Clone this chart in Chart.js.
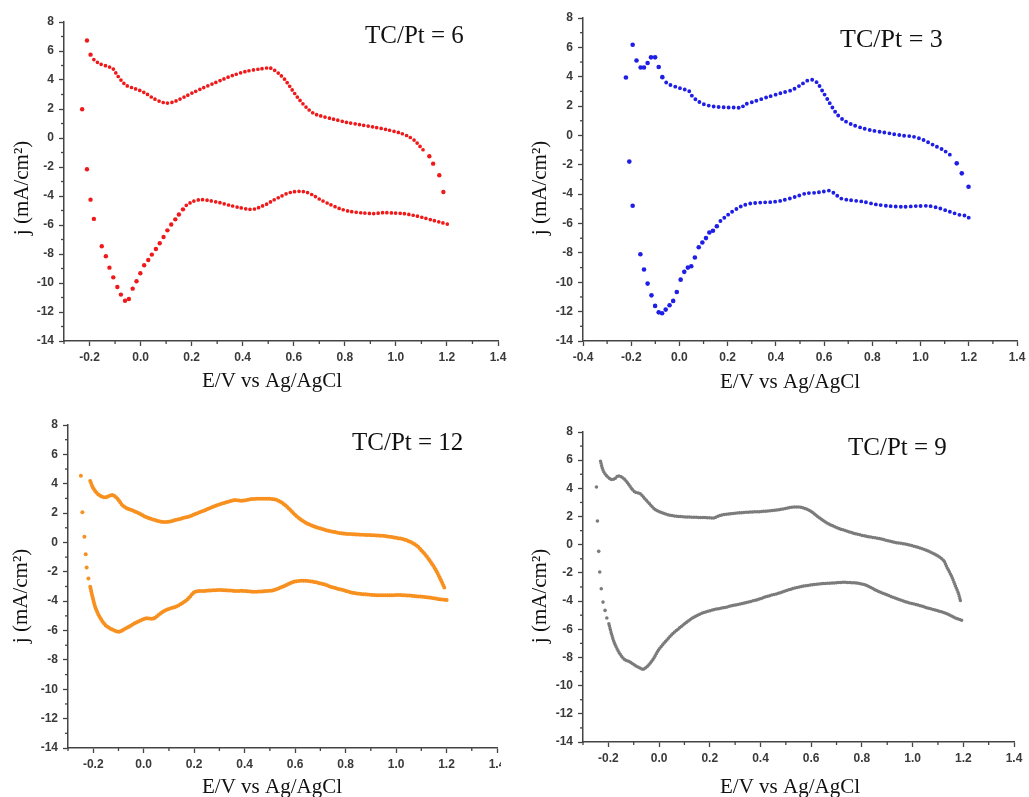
<!DOCTYPE html>
<html>
<head>
<meta charset="utf-8">
<script src="https://cdn.jsdelivr.net/npm/chart.js@4.4.1/dist/chart.umd.min.js"></script>
<style>
  body { margin: 0; background: #fff; width: 1029px; height: 797px; position: relative; overflow: hidden; }
  canvas { position: absolute; }
</style>
</head>
<body>
<canvas id="c1" width="515" height="400" style="left:0;top:0"></canvas>
<canvas id="c2" width="514" height="400" style="left:515px;top:0"></canvas>
<canvas id="c3" width="501" height="397" style="left:0;top:400px"></canvas>
<canvas id="c4" width="514" height="397" style="left:515px;top:400px"></canvas>
<script>
// Shared labels
const xTitle = 'E/V vs Ag/AgCl';
const yTitle = 'j (mA/cm\u00B2)';
const tags = ['TC/Pt = 6', 'TC/Pt = 3', 'TC/Pt = 12', 'TC/Pt = 9'];

// TC/Pt = 6 (red)
const p1UpX = [-0.183, -0.161, -0.135, -0.109, -0.093, -0.076, -0.056, -0.03, -0.004, 0.022, 0.048, 0.075, 0.1, 0.127, 0.153, 0.179, 0.205, 0.244, 0.284, 0.323, 0.362, 0.414, 0.467, 0.506, 0.525, 0.545, 0.565, 0.584, 0.604, 0.624, 0.65, 0.676, 0.702, 0.754, 0.807, 0.859, 0.911, 0.964, 1.016, 1.048, 1.075, 1.094, 1.114];
const p1UpY = [5.41, 5.13, 4.97, 4.79, 4.37, 3.98, 3.63, 3.45, 3.29, 3.06, 2.76, 2.53, 2.41, 2.48, 2.67, 2.9, 3.13, 3.45, 3.75, 4.05, 4.32, 4.6, 4.76, 4.83, 4.67, 4.39, 4.03, 3.57, 3.06, 2.6, 2.1, 1.72, 1.54, 1.31, 1.08, 0.92, 0.76, 0.58, 0.35, 0.12, -0.2, -0.57, -0.96];
const p1LoX = [0.179, 0.205, 0.238, 0.271, 0.31, 0.349, 0.388, 0.427, 0.454, 0.467, 0.493, 0.519, 0.545, 0.571, 0.597, 0.624, 0.65, 0.676, 0.702, 0.741, 0.78, 0.82, 0.872, 0.911, 0.95, 0.99, 1.029, 1.068, 1.107, 1.146, 1.179, 1.205];
const p1LoY = [-4.64, -4.37, -4.25, -4.32, -4.46, -4.64, -4.8, -4.92, -4.87, -4.76, -4.57, -4.3, -4.07, -3.84, -3.72, -3.68, -3.74, -3.95, -4.23, -4.57, -4.87, -5.06, -5.17, -5.21, -5.15, -5.17, -5.21, -5.33, -5.49, -5.68, -5.83, -5.95];
const p1DotX = [-0.229, -0.21, -0.196, 1.131, 1.146, 1.17, 1.186, -0.21, -0.196, -0.183, -0.152, -0.136, -0.122, -0.107, -0.091, -0.077, -0.061, -0.046, -0.031, -0.016, -0.001, 0.014, 0.03, 0.044, 0.06, 0.075, 0.09, 0.105, 0.12, 0.136, 0.15, 0.166];
const p1DotY = [1.98, 6.72, 5.75, -1.26, -1.77, -2.57, -3.72, -2.16, -4.25, -5.58, -7.47, -8.16, -8.94, -9.61, -10.28, -10.8, -11.22, -11.1, -10.39, -9.88, -9.33, -8.78, -8.41, -8.04, -7.65, -7.26, -6.83, -6.37, -5.97, -5.61, -5.28, -4.92];

// TC/Pt = 3 (blue)
const p2UpX = [-0.055, -0.039, -0.011, 0.017, 0.038, 0.052, 0.073, 0.1, 0.142, 0.184, 0.226, 0.26, 0.267, 0.309, 0.365, 0.42, 0.469, 0.504, 0.531, 0.552, 0.573, 0.594, 0.615, 0.636, 0.656, 0.684, 0.719, 0.761, 0.802, 0.844, 0.886, 0.927, 0.969, 1.011, 1.053, 1.094, 1.129];
const p2UpY = [3.61, 3.45, 3.29, 3.15, 3.06, 2.7, 2.38, 2.13, 1.97, 1.92, 1.9, 1.9, 2.08, 2.31, 2.61, 2.88, 3.11, 3.45, 3.74, 3.79, 3.56, 3.0, 2.43, 1.86, 1.4, 1.01, 0.72, 0.49, 0.33, 0.22, 0.1, -0.01, -0.08, -0.3, -0.65, -0.99, -1.4];
const p2LoX = [0.17, 0.191, 0.212, 0.24, 0.267, 0.295, 0.337, 0.378, 0.42, 0.483, 0.524, 0.566, 0.594, 0.622, 0.643, 0.67, 0.705, 0.761, 0.816, 0.872, 0.927, 0.983, 1.039, 1.08, 1.122, 1.164, 1.192, 1.205];
const p2LoY = [-5.83, -5.54, -5.27, -4.97, -4.75, -4.63, -4.57, -4.54, -4.45, -4.17, -3.95, -3.9, -3.83, -3.76, -3.95, -4.29, -4.4, -4.51, -4.7, -4.81, -4.86, -4.81, -4.81, -4.97, -5.2, -5.42, -5.49, -5.7];
const p2DotX = [-0.222, -0.194, -0.178, -0.161, -0.147, -0.132, -0.118, -0.101, -0.086, -0.071, 1.15, 1.171, 1.199, -0.208, -0.194, -0.162, -0.147, -0.132, -0.116, -0.101, -0.086, -0.072, -0.057, -0.041, -0.026, -0.011, 0.005, 0.02, 0.035, 0.049, 0.064, 0.08, 0.095, 0.11, 0.124, 0.139, 0.155];
const p2DotY = [3.95, 6.18, 5.11, 4.63, 4.63, 4.93, 5.32, 5.32, 4.66, 3.97, -1.9, -2.58, -3.49, -1.78, -4.79, -8.09, -9.13, -10.09, -10.89, -11.61, -12.05, -12.11, -11.86, -11.57, -11.27, -10.66, -9.82, -9.29, -9.0, -8.91, -8.31, -7.61, -7.29, -6.99, -6.61, -6.49, -6.18];

// TC/Pt = 12 (orange)
const p3UpX = [-0.212, -0.203, -0.19, -0.171, -0.151, -0.125, -0.105, -0.085, -0.066, -0.039, -0.013, 0.013, 0.046, 0.072, 0.098, 0.125, 0.151, 0.177, 0.203, 0.243, 0.282, 0.321, 0.361, 0.387, 0.426, 0.466, 0.515, 0.542, 0.568, 0.594, 0.62, 0.647, 0.673, 0.712, 0.751, 0.791, 0.843, 0.896, 0.948, 1.0, 1.04, 1.079, 1.106, 1.132, 1.158, 1.178, 1.193];
const p3UpY = [4.18, 3.8, 3.45, 3.16, 3.07, 3.23, 3.0, 2.55, 2.32, 2.14, 1.93, 1.7, 1.52, 1.41, 1.41, 1.52, 1.64, 1.75, 1.93, 2.2, 2.48, 2.7, 2.89, 2.84, 2.95, 2.98, 2.95, 2.77, 2.43, 1.98, 1.59, 1.3, 1.11, 0.89, 0.73, 0.61, 0.55, 0.5, 0.45, 0.32, 0.16, -0.18, -0.64, -1.2, -1.89, -2.57, -3.14];
const p3LoX = [-0.212, -0.203, -0.19, -0.171, -0.151, -0.125, -0.098, -0.085, -0.059, -0.033, 0.007, 0.039, 0.066, 0.092, 0.125, 0.151, 0.177, 0.203, 0.243, 0.282, 0.321, 0.361, 0.4, 0.439, 0.476, 0.515, 0.555, 0.594, 0.633, 0.673, 0.712, 0.751, 0.791, 0.83, 0.87, 0.922, 0.974, 1.027, 1.079, 1.132, 1.171, 1.204];
const p3LoY = [-3.02, -3.7, -4.5, -5.18, -5.64, -5.93, -6.09, -5.98, -5.75, -5.48, -5.18, -5.18, -4.84, -4.57, -4.39, -4.16, -3.82, -3.36, -3.3, -3.25, -3.25, -3.3, -3.3, -3.36, -3.32, -3.25, -2.98, -2.68, -2.61, -2.68, -2.84, -3.07, -3.25, -3.43, -3.52, -3.59, -3.59, -3.59, -3.66, -3.75, -3.86, -3.93];
const p3DotX = [-0.249, -0.243, -0.235, -0.23, -0.226, -0.219];
const p3DotY = [4.55, 2.05, 0.39, -0.8, -1.7, -2.45];

// TC/Pt = 9 (grey)
const p4UpX = [-0.231, -0.221, -0.208, -0.188, -0.175, -0.161, -0.142, -0.122, -0.108, -0.095, -0.075, -0.056, -0.036, -0.016, 0.011, 0.044, 0.077, 0.11, 0.149, 0.189, 0.216, 0.242, 0.282, 0.321, 0.361, 0.414, 0.474, 0.513, 0.54, 0.566, 0.593, 0.619, 0.646, 0.672, 0.712, 0.765, 0.817, 0.87, 0.923, 0.976, 1.016, 1.056, 1.095, 1.122, 1.135, 1.155, 1.168, 1.181, 1.19];
const p4UpY = [5.92, 5.28, 4.92, 4.62, 4.69, 4.88, 4.74, 4.33, 3.98, 3.74, 3.62, 3.27, 2.87, 2.51, 2.27, 2.09, 2.01, 1.97, 1.94, 1.92, 1.9, 2.09, 2.2, 2.27, 2.32, 2.37, 2.49, 2.63, 2.68, 2.63, 2.44, 2.09, 1.73, 1.45, 1.14, 0.83, 0.6, 0.43, 0.19, 0.03, -0.16, -0.4, -0.75, -1.11, -1.58, -2.29, -2.88, -3.47, -4.07];
const p4LoX = [-0.198, -0.188, -0.175, -0.155, -0.135, -0.115, -0.095, -0.075, -0.062, -0.042, -0.022, -0.003, 0.024, 0.05, 0.077, 0.11, 0.143, 0.176, 0.216, 0.255, 0.295, 0.335, 0.388, 0.427, 0.474, 0.526, 0.566, 0.606, 0.646, 0.685, 0.725, 0.778, 0.817, 0.857, 0.897, 0.937, 0.976, 1.016, 1.056, 1.095, 1.135, 1.161, 1.194];
const p4LoY = [-5.6, -6.31, -7.02, -7.73, -8.16, -8.32, -8.56, -8.75, -8.84, -8.56, -8.09, -7.5, -6.9, -6.38, -5.96, -5.48, -5.08, -4.82, -4.61, -4.47, -4.3, -4.14, -3.9, -3.66, -3.43, -3.12, -2.95, -2.84, -2.76, -2.72, -2.67, -2.72, -2.88, -3.24, -3.54, -3.83, -4.07, -4.25, -4.47, -4.66, -4.89, -5.13, -5.37];
const p4DotX = [-0.247, -0.243, -0.238, -0.234, -0.228, -0.221, -0.213, -0.206];
const p4DotY = [4.1, 1.68, -0.47, -1.94, -3.12, -4.07, -4.66, -5.2];

const xMins = [-0.3, -0.4, -0.3, -0.3];

function pts(xs, ys) {
    return xs.map((x, i) => ({ x: x, y: ys[i] }));
}
function majorX(v) { return Math.round(v * 10) % 2 === 0; }
function majorY(v) { return Math.round(v) % 2 === 0; }

// minor ticks + texts
const panelText = {
    id: 'panelText',
    afterDraw(chart, args, o) {
        const ctx = chart.ctx;
        const sx = chart.scales.x, sy = chart.scales.y;
        const a = chart.chartArea;
        ctx.save();
        ctx.strokeStyle = '#444';
        ctx.lineWidth = 1.3;
        sx.ticks.forEach(t => {
            if (majorX(t.value)) return;
            const px = sx.getPixelForValue(t.value);
            ctx.beginPath(); ctx.moveTo(px, a.bottom); ctx.lineTo(px, a.bottom + 3); ctx.stroke();
        });
        sy.ticks.forEach(t => {
            if (majorY(t.value)) return;
            const py = sy.getPixelForValue(t.value);
            ctx.beginPath(); ctx.moveTo(a.left - 3, py); ctx.lineTo(a.left, py); ctx.stroke();
        });
        ctx.fillStyle = '#111';
        ctx.textBaseline = 'alphabetic';
        ctx.textAlign = 'left';
        ctx.font = o.tagSize + 'px "Liberation Serif"';
        ctx.fillText(o.tag, o.tagX, o.tagY);
        ctx.textAlign = 'center';
        ctx.font = '21px "Liberation Serif"';
        ctx.fillText(xTitle, o.xtX, o.xtY);
        ctx.translate(o.ytX, o.ytY);
        ctx.rotate(-Math.PI / 2);
        ctx.textBaseline = 'middle';
        ctx.fillText(yTitle, 0, 0);
        ctx.restore();
    }
};

function makePanel(id, n, color, up, lo, dots, lay, line) {
    const ctx = document.getElementById(id).getContext('2d');
    return new Chart(ctx, {
        type: 'scatter',
        data: {
            datasets: [
                {
                    label: 'anodic',
                    data: up,
                    showLine: true,
                    pointRadius: 0,
                    borderColor: color,
                    borderWidth: line.w,
                    borderDash: line.dash,
                    borderCapStyle: 'round',
                    tension: 0.3
                },
                {
                    label: 'cathodic',
                    data: lo,
                    showLine: true,
                    pointRadius: 0,
                    borderColor: color,
                    borderWidth: line.w,
                    borderDash: line.dash,
                    borderCapStyle: 'round',
                    tension: 0.3
                },
                {
                    label: 'points',
                    data: dots,
                    showLine: false,
                    pointRadius: line.r,
                    pointBorderWidth: 0,
                    backgroundColor: color,
                    borderColor: color
                }
            ]
        },
        options: {
            responsive: false,
            animation: false,
            events: [],
            layout: { padding: { left: 0, top: lay.top, right: lay.right, bottom: 0 } },
            plugins: {
                legend: { display: false },
                tooltip: { enabled: false },
                panelText: {
                    tag: tags[n], tagSize: lay.tagSize, tagX: lay.tagX, tagY: lay.tagY,
                    xtX: lay.xtX, xtY: lay.xtY, ytX: lay.ytX, ytY: lay.ytY
                }
            },
            scales: {
                x: {
                    type: 'linear',
                    min: xMins[n],
                    max: 1.4,
                    afterFit: s => { s.height = lay.xh; s.paddingLeft = 0; s.paddingRight = 0; },
                    border: { color: '#444', width: 1.5 },
                    grid: {
                        drawOnChartArea: false,
                        tickLength: 5,
                        tickWidth: 1.3,
                        tickColor: c => (c.tick && majorX(c.tick.value)) ? '#444' : 'rgba(0,0,0,0)'
                    },
                    ticks: {
                        stepSize: 0.1,
                        autoSkip: false,
                        maxRotation: 0,
                        padding: 4,
                        color: '#3a3a3a',
                        font: { family: 'Liberation Sans', size: 12, weight: 'bold' },
                        callback: v => majorX(v) ? (Math.round(v * 10) / 10).toFixed(1) : ''
                    }
                },
                y: {
                    type: 'linear',
                    min: -14,
                    max: 8,
                    afterFit: s => { s.width = lay.yw; s.paddingTop = 0; s.paddingBottom = 0; },
                    border: { color: '#444', width: 1.5 },
                    grid: {
                        drawOnChartArea: false,
                        tickLength: 5,
                        tickWidth: 1.3,
                        tickColor: c => (c.tick && majorY(c.tick.value)) ? '#444' : 'rgba(0,0,0,0)'
                    },
                    ticks: {
                        stepSize: 1,
                        autoSkip: false,
                        padding: 5,
                        color: '#3a3a3a',
                        font: { family: 'Liberation Sans', size: 12, weight: 'bold' },
                        callback: v => majorY(v) ? String(Math.round(v)) : ''
                    }
                }
            }
        },
        plugins: [panelText]
    });
}

makePanel('c1', 0, '#f01818', pts(p1UpX, p1UpY), pts(p1LoX, p1LoY), pts(p1DotX, p1DotY),
    { top: 22, right: 17, yw: 64, xh: 59, tagSize: 25, tagX: 365, tagY: 43, xtX: 272, xtY: 387, ytX: 22, ytY: 188 },
    { w: 3.7, dash: [0, 4.4], r: 2.2 });
makePanel('c2', 1, '#1e1ee6', pts(p2UpX, p2UpY), pts(p2LoX, p2LoY), pts(p2DotX, p2DotY),
    { top: 18, right: 12, yw: 68, xh: 59, tagSize: 26, tagX: 325, tagY: 47, xtX: 275, xtY: 388, ytX: 25, ytY: 188 },
    { w: 3.9, dash: [0, 5], r: 2.3 });
makePanel('c3', 2, '#f7901e', pts(p3UpX, p3UpY), pts(p3LoX, p3LoY), pts(p3DotX, p3DotY),
    { top: 25, right: 0, yw: 68, xh: 49, tagSize: 25, tagX: 352, tagY: 50, xtX: 272, xtY: 393, ytX: 21, ytY: 196 },
    { w: 4, dash: [0, 2.2], r: 2.0 });
makePanel('c4', 3, '#7b7b7b', pts(p4UpX, p4UpY), pts(p4LoX, p4LoY), pts(p4DotX, p4DotY),
    { top: 32, right: 15, yw: 68, xh: 55, tagSize: 25, tagX: 333, tagY: 55, xtX: 275, xtY: 393, ytX: 25, ytY: 196 },
    { w: 3.5, dash: [0, 2.2], r: 1.8 });
</script>
</body>
</html>
